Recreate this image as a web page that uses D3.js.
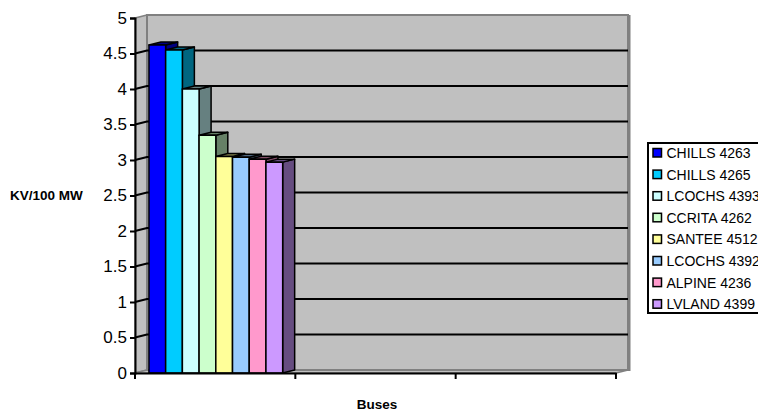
<!DOCTYPE html>
<html>
<head>
<meta charset="utf-8">
<script src="https://cdn.jsdelivr.net/npm/d3@7"></script>
<style>
  html, body { margin: 0; padding: 0; background: #ffffff; }
  svg { display: block; font-family: "Liberation Sans", Arial, sans-serif; }
</style>
</head>
<body>
<svg id="chart" width="758" height="413"></svg>
<script>
// Category slots along the x axis (only the first one carries data)
const categories = ["c1", "c2", "c3"];

// Bus series names (legend order)
const seriesNames = [
  "CHILLS 4263", "CHILLS 4265", "LCOCHS 4393", "CCRITA 4262",
  "SANTEE 4512", "LCOCHS 4392", "ALPINE 4236", "LVLAND 4399"
];

// KV/100 MW value of each bus, in the first category
const seriesValues = [4.62, 4.55, 4.00, 3.35, 3.05, 3.04, 3.01, 2.97];

// Value axis ticks
const yTicks = [0, 0.5, 1, 1.5, 2, 2.5, 3, 3.5, 4, 4.5, 5];

// Face colour of each series
const frontColors = ["#0000FF", "#00CCFF", "#CCFFFF", "#CCFFCC", "#FFFF99", "#99CCFF", "#FF99CC", "#CC99FF"];

(function draw() {
  const svg = d3.select("#chart");

  const pLeft = 135, pRight = 616, pTop = 18, pBottom = 373;
  const dx = 12, dy = -3; // depth offset of the 3-D walls and bars

  const x = d3.scaleBand().domain(categories).range([pLeft, pRight]).padding(0);
  const y = d3.scaleLinear().domain([0, 5]).range([pBottom, pTop]);
  const bw = x.bandwidth();
  const inner = d3.scaleBand().domain(seriesNames).range([bw * 0.087, bw * 0.921]).padding(0);

  const shade = c => { const r = d3.rgb(c); return d3.rgb(r.r * 0.5, r.g * 0.5, r.b * 0.5).formatHex(); };
  const poly = pts => pts.map(p => p.join(",")).join(" ");

  // Walls
  const wallFill = "#C0C0C0", wallEdge = "#808080";
  svg.append("polygon") // side wall
    .attr("points", poly([[pLeft, y(5)], [pLeft + dx, y(5) + dy], [pLeft + dx, y(0) + dy], [pLeft, y(0)]]))
    .attr("fill", wallFill).attr("stroke", wallEdge).attr("stroke-width", 1.5);
  svg.append("polygon") // floor
    .attr("points", poly([[pLeft, y(0)], [pRight, y(0)], [pRight + dx, y(0) + dy], [pLeft + dx, y(0) + dy]]))
    .attr("fill", wallFill).attr("stroke", wallEdge).attr("stroke-width", 1.5);
  svg.append("polygon") // back wall
    .attr("points", poly([[pLeft + dx, y(5) + dy], [pRight + dx, y(5) + dy], [pRight + dx, y(0) + dy], [pLeft + dx, y(0) + dy]]))
    .attr("fill", wallFill).attr("stroke", wallEdge).attr("stroke-width", 2);
  svg.append("line")
    .attr("x1", pRight + dx + 1).attr("x2", pRight + dx + 1)
    .attr("y1", y(5) + dy).attr("y2", y(0) + dy + 1)
    .attr("stroke", wallEdge).attr("stroke-width", 3);

  // Gridlines across side and back walls
  const grid = svg.append("g");
  yTicks.filter(v => v > 0 && v < 5).forEach(v => {
    grid.append("polyline")
      .attr("points", poly([[pLeft, y(v)], [pLeft + dx, y(v) + dy], [pRight + dx, y(v) + dy]]))
      .attr("fill", "none").attr("stroke", "#000").attr("stroke-width", 2);
  });

  // Bars, drawn left to right so each front hides its neighbour's side
  const bars = svg.append("g");
  seriesNames.forEach((name, i) => {
    const v = seriesValues[i];
    const x0 = x(categories[0]) + inner(name);
    const x1 = x0 + inner.bandwidth();
    const yt = y(v), yb = y(0);
    const dark = shade(frontColors[i]);
    const g = bars.append("g").attr("stroke", "#000").attr("stroke-width", 1.5).attr("stroke-linejoin", "round");
    g.append("polygon") // side
      .attr("points", poly([[x1, yt], [x1 + dx, yt + dy], [x1 + dx, yb + dy], [x1, yb]]))
      .attr("fill", dark);
    g.append("polygon") // top
      .attr("points", poly([[x0, yt], [x0 + dx, yt + dy], [x1 + dx, yt + dy], [x1, yt]]))
      .attr("fill", dark);
    g.append("rect") // front
      .attr("x", x0).attr("y", yt).attr("width", x1 - x0).attr("height", yb - yt)
      .attr("fill", frontColors[i]);
  });

  // Value axis
  const yAxis = svg.append("g").attr("transform", `translate(${pLeft},0)`)
    .call(d3.axisLeft(y).tickValues(yTicks).tickFormat(d3.format("")).tickSize(5).tickPadding(3));
  yAxis.select(".domain").attr("stroke", "#000").attr("stroke-width", 2);
  yAxis.selectAll(".tick line").attr("stroke", "#000").attr("stroke-width", 2);
  yAxis.selectAll(".tick text").attr("font-size", 17).attr("fill", "#000")
    .attr("font-family", "'Liberation Sans', Arial, sans-serif");

  // Category axis (no labels)
  const xAxis = svg.append("g").attr("transform", `translate(0,${pBottom})`)
    .call(d3.axisBottom(x).tickValues([]).tickSizeOuter(0));
  xAxis.select(".domain").attr("stroke", "#000").attr("stroke-width", 2);
  const edges = categories.map(c => x(c)).concat([pRight]);
  xAxis.selectAll(".edge").data(edges).join("line").attr("class", "edge")
    .attr("x1", d => d).attr("x2", d => d).attr("y1", 0).attr("y2", 6)
    .attr("stroke", "#000").attr("stroke-width", 2);

  // Axis titles
  svg.append("text").attr("x", 10).attr("y", 200)
    .attr("font-size", 13.5).attr("font-weight", "bold").text("KV/100 MW");
  svg.append("text").attr("x", 377).attr("y", 409).attr("text-anchor", "middle")
    .attr("font-size", 13.5).attr("font-weight", "bold").text("Buses");

  // Legend
  const legTop = 143, legBottom = 313, legStep = 21.6;
  const legend = svg.append("g");
  legend.append("rect").attr("x", 648).attr("y", legTop).attr("width", 130).attr("height", legBottom - legTop)
    .attr("fill", "#fff").attr("stroke", "#000").attr("stroke-width", 2);
  seriesNames.forEach((name, i) => {
    const cy = legTop + 10 + i * legStep;
    legend.append("rect").attr("x", 653).attr("y", cy - 4.5).attr("width", 8.5).attr("height", 8.5)
      .attr("fill", frontColors[i]).attr("stroke", "#000").attr("stroke-width", 1.5);
    legend.append("text").attr("x", 666.5).attr("y", cy + 5).attr("font-size", 14).text(name);
  });
})();
</script>
</body>
</html>
